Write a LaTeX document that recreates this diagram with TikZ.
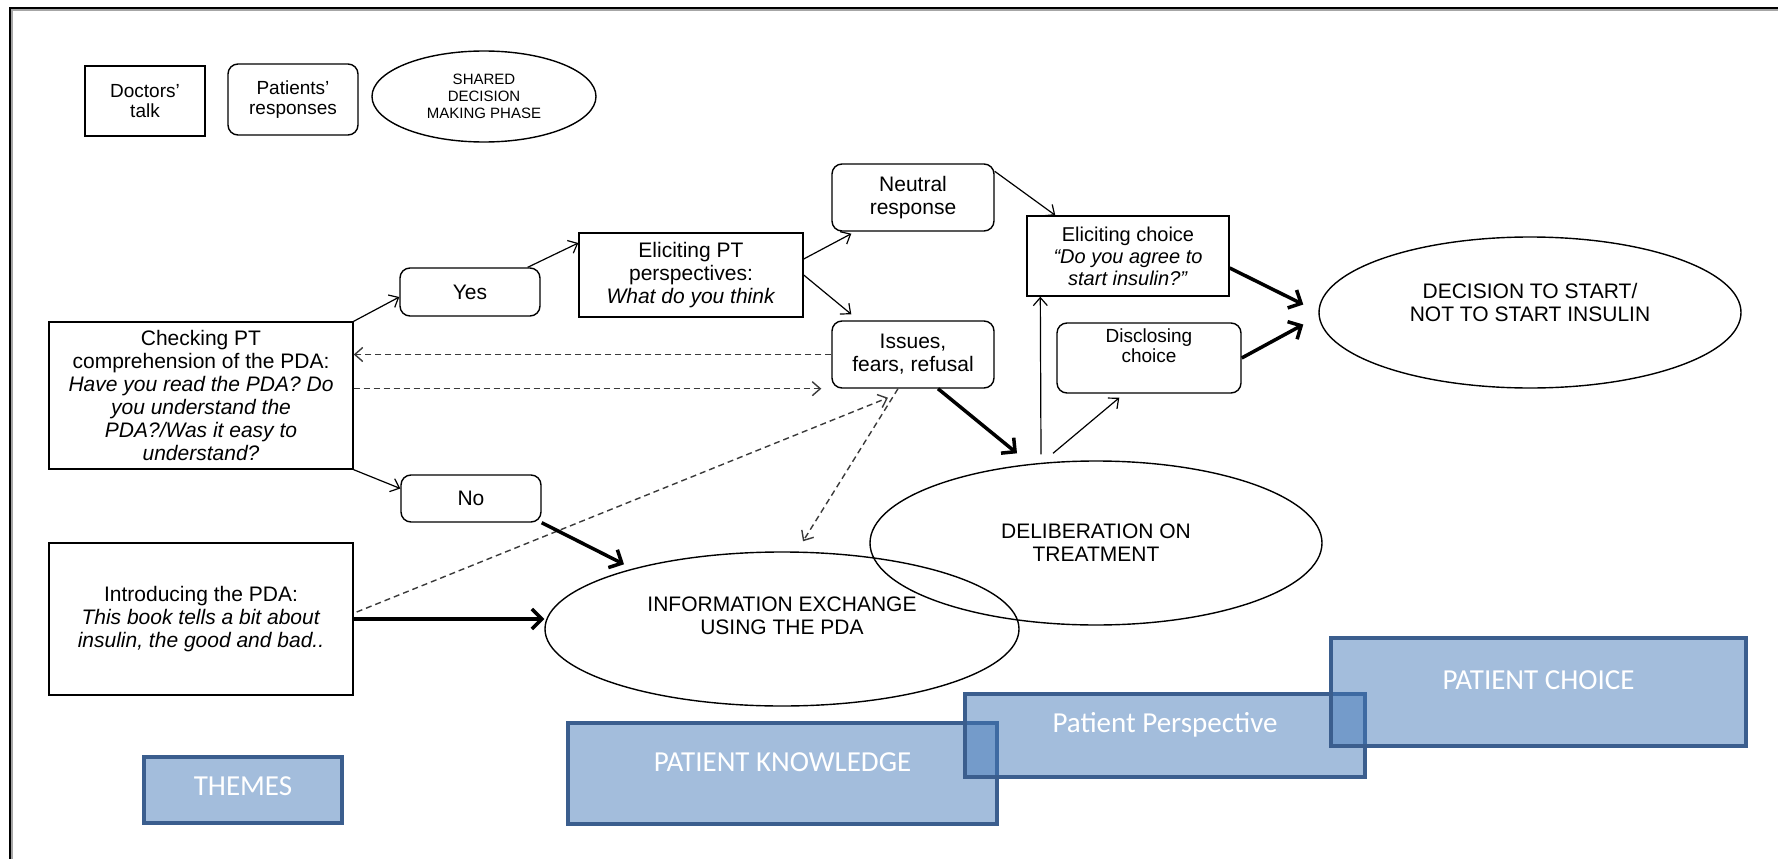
\documentclass[tikz,border=0pt]{standalone}
\usepackage{fontspec}
\setmainfont{Liberation Sans}
\newfontfamily\themefont{Carlito}
\usetikzlibrary{arrows.meta,positioning,calc,shapes.geometric}
\definecolor{themefill}{HTML}{4378B8}
\definecolor{themeedge}{HTML}{3B5E8E}
\definecolor{dashgray}{HTML}{3A3A3A}
\tikzset{
  talkbox/.style={
    draw,
    line width=1.4pt,
    inner sep=0pt,
    align=center,
    font=\fontsize{21}{23}\selectfont
  },
  replybox/.style={
    talkbox,
    rounded corners=10pt
  },
  phase/.style={
    ellipse,
    draw,
    line width=1.4pt,
    inner sep=0pt,
    align=center,
    font=\fontsize{21}{23}\selectfont
  },
  phasetext/.style={
    inner sep=0pt,
    align=center,
    font=\fontsize{21}{23}\selectfont
  },
  themebox/.style={
    draw=themeedge,
    line width=4.5pt,
    fill=themefill,
    fill opacity=0.49,
    inner sep=0pt
  },
  themetext/.style={
    text=white,
    fill opacity=1,
    text opacity=1,
    align=center,
    font=\themefont\fontsize{29}{32}\selectfont
  },
  arrow/.style={
    -{Straight Barb[length=8pt,width=14pt]},
    line width=1.2pt
  },
  thickarrow/.style={
    -{Straight Barb[length=10pt,width=20pt]},
    line width=3.5pt
  },
  dasharrow/.style={
    arrow,
    line width=1.4pt,
    draw=dashgray,
    dash pattern=on 6pt off 4pt
  }
}
\begin{document}
\begin{tikzpicture}[x=1pt,y=-1pt]
  \useasboundingbox (0,0) rectangle (1778,859);
  % frame (cut off at right and bottom)
  \draw[black!35, line width=1.5pt] (12,859) -- (12,10) -- (1778,10);
  \draw[line width=2pt] (10,859) -- (10,8) -- (1778,8);

  % legend
  \node[talkbox, minimum width=120pt, minimum height=70pt, font=\fontsize{19}{20}\selectfont] (doctors) at (145,101) {Doctors’\\talk};
  \node[replybox, minimum width=130pt, minimum height=71pt, font=\fontsize{19}{20}\selectfont] (patients) at (293,99.5) {Patients’\\responses};
  \node[phase, minimum width=224pt, minimum height=91pt, font=\fontsize{15}{16.7}\selectfont] (phaseleg) at (484,96.5) {SHARED\\DECISION\\MAKING PHASE};

  % doctors' talk
  \node[talkbox, minimum width=304pt, minimum height=147pt] (check) at (201,395.5) {Checking PT\\comprehension of the PDA:\\\textit{Have you read the PDA? Do}\\\textit{you understand the}\\\textit{PDA?/Was it easy to}\\\textit{understand?}};
  \node[talkbox, minimum width=304pt, minimum height=152pt] (intro) at (201,619) {Introducing the PDA:\\\textit{This book tells a bit about}\\\textit{insulin, the good and bad..}};
  \node[talkbox, minimum width=224pt, minimum height=84pt] (ept) at (691,275) {Eliciting PT\\perspectives:\\\textit{What do you think}};
  \node[talkbox, minimum width=202pt, minimum height=80pt, font=\fontsize{20}{22}\selectfont] (choice) at (1128,256) {Eliciting choice\\\textit{“Do you agree to}\\\textit{start insulin?”}};

  % patients' responses
  \node[replybox, minimum width=140pt, minimum height=48pt] (yes) at (470,292) {Yes};
  \node[replybox, minimum width=140pt, minimum height=47pt] (no) at (471,498.5) {No};
  \node[replybox, minimum width=162pt, minimum height=67pt] (neutral) at (913,197.5) {Neutral\\response};
  \node[replybox, minimum width=162pt, minimum height=67pt] (issues) at (913,354.5) {Issues,\\fears, refusal};
  \node[replybox, minimum width=184pt, minimum height=70pt, font=\fontsize{19}{20}\selectfont] (disclose) at (1149,358) {Disclosing\\choice\\[4pt]};

  % phases
  \node[phase, minimum width=474pt, minimum height=154pt] (info) at (782,629) {};
  \node[phasetext] (infotext) at (782,616) {INFORMATION EXCHANGE\\USING THE PDA};
  \node[phase, minimum width=452pt, minimum height=164pt] (delib) at (1096,543) {DELIBERATION ON\\TREATMENT};
  \node[phase, minimum width=422pt, minimum height=151pt] (decision) at (1530,312.5) {};
  \node[phasetext] (decisiontext) at (1530,302) {DECISION TO START/\\NOT TO START INSULIN};

  % themes
  \node[themebox, minimum width=198pt, minimum height=66pt, label={[themetext, yshift=4pt]center:THEMES}] (themes) at (243,790) {};
  \node[themebox, minimum width=429pt, minimum height=101pt, label={[themetext, yshift=11pt]center:PATIENT KNOWLEDGE}] (knowledge) at (782.5,773.5) {};
  \node[themebox, minimum width=400pt, minimum height=83pt, label={[themetext, yshift=11pt]center:Patient Perspective}] (perspective) at (1165,735.5) {};
  \node[themebox, minimum width=415pt, minimum height=108pt, label={[themetext, yshift=12pt]center:PATIENT CHOICE}] (choicetheme) at (1538.5,692) {};

  % connectors
  \draw[arrow] (check.north east) -- ($(yes.west)+(0,5)$);
  \draw[arrow] (check.south east) -- ($(no.west)+(0,-10)$);
  \draw[arrow] ($(yes.north east)+(-13,0)$) -- ($(ept.west)+(0,-32)$);
  \draw[arrow] ($(ept.east)+(0,-16)$) -- ($(neutral.south west)+(20,2)$);
  \draw[arrow] (ept.east) -- ($(issues.north west)+(20,-6)$);
  \draw[arrow] ($(neutral.north east)+(0,8)$) -- ($(choice.north west)+(29,0)$);
  \draw[dasharrow] (issues.west) -- (issues.west -| check.east);
  \draw[dasharrow] (check.east |- issues.south west) -- ($(issues.south west)+(-10,0)$);
  \draw[dasharrow] ($(intro.east)+(3,-7)$) -- ($(issues.south)+(-25,9)$);
  \draw[dasharrow] ($(issues.south)+(-15,0)$) -- ($(info.north)+(21,-10)$);
  \draw[thickarrow] ($(issues.south)+(25,0)$) -- ($(delib.north)+(-79,-7)$);
  \draw[thickarrow] (no.south east) -- ($(info.north)+(-158,13)$);
  \draw[thickarrow] (intro.east) -- (intro.east -| info.west);
  \draw[arrow] ($(delib.north)+(-55,-6)$) -- ($(choice.south west)+(14,0)$);
  \draw[arrow] ($(delib.north)+(-43,-7)$) -- ($(disclose.south west)+(63,4)$);
  \draw[thickarrow] ($(choice.east)+(0,12)$) -- ($(decision.west)+(-15,-8)$);
  \draw[thickarrow] (disclose.east) -- ($(decision.west)+(-15,12)$);
\end{tikzpicture}
\end{document}
